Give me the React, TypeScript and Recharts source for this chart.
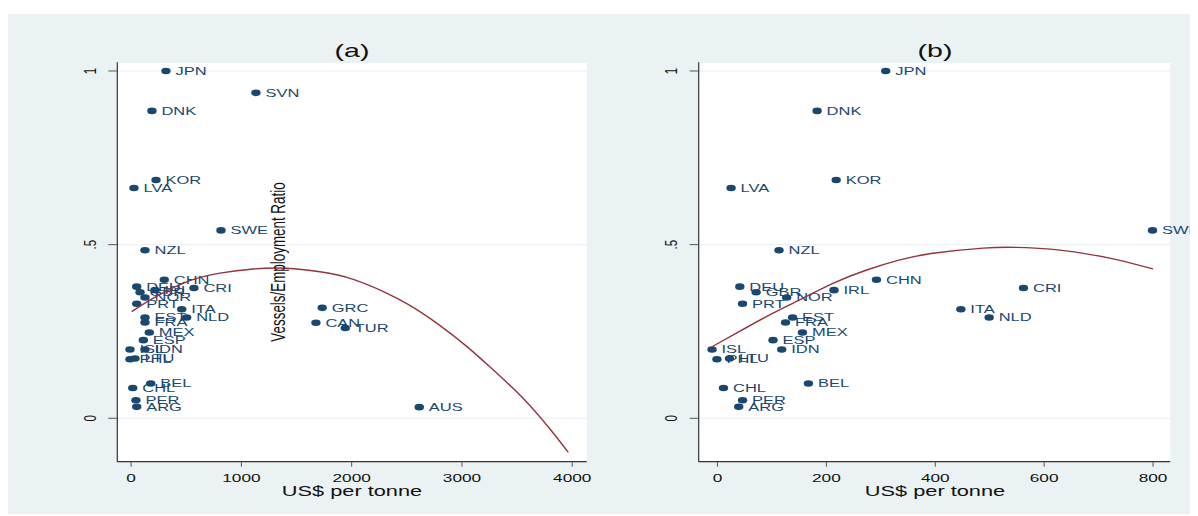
import React from 'react';
import { ScatterChart, Scatter, XAxis, YAxis, CartesianGrid } from 'recharts';

// country codes, vessels/employment ratio, price in panel (a) and (b)
const countries = ['JPN', 'SVN', 'DNK', 'KOR', 'LVA', 'SWE', 'NZL', 'CHN', 'DEU', 'GBR', 'IRL', 'CRI', 'NOR', 'PRT', 'ITA', 'EST', 'NLD', 'FRA', 'MEX', 'ESP', 'ISL', 'IDN', 'PHL', 'LTU', 'BEL', 'CHL', 'PER', 'ARG', 'GRC', 'CAN', 'TUR', 'AUS'];
const ratio = [1.0, 0.937, 0.885, 0.686, 0.663, 0.541, 0.484, 0.399, 0.379, 0.363, 0.369, 0.375, 0.348, 0.33, 0.314, 0.29, 0.29, 0.276, 0.247, 0.225, 0.198, 0.198, 0.17, 0.172, 0.1, 0.087, 0.052, 0.033, 0.318, 0.275, 0.26, 0.032];
const priceA = [316, 1132, 189, 226, 26, 815, 126, 301, 51, 81, 217, 570, 126, 51, 459, 126, 504, 126, 165, 111, -10, 126, -10, 35, 178, 15, 44, 51, 1733, 1676, 1942, 2613];
const priceB = [309, null, 183, 218, 25, 799, 113, 292, 41, 71, 214, 562, 127, 46, 447, 138, 499, 125, 156, 102, -10, 118, -1, 22, 167, 11, 46, 39, null, null, null, null];

// quadratic fit lines
const fitAx = [5, 201, 504, 806, 1108, 1411, 1713, 2015, 2438, 2771, 3043, 3284, 3556, 3798, 3964];
const fitAy = [0.307, 0.346, 0.393, 0.418, 0.43, 0.432, 0.422, 0.4, 0.341, 0.274, 0.207, 0.139, 0.057, -0.031, -0.098];
const fitBx = [-10, 29, 90, 151, 213, 274, 335, 396, 488, 550, 611, 672, 733, 800];
const fitBy = [0.206, 0.24, 0.293, 0.341, 0.389, 0.427, 0.456, 0.475, 0.49, 0.492, 0.487, 0.475, 0.457, 0.43];

const ticksA = [0, 1000, 2000, 3000, 4000];
const ticksB = [0, 200, 400, 600, 800];
const yTicks = [0, 0.5, 1];

const FONT = '"Liberation Sans", Arial, Helvetica, sans-serif';
const NAVY = '#1a476f';
const MAROON = '#90353b';
const BG = '#eaf2f3';
const SX = 1.5;

const pointsA = countries.map((name, i) => ({ name, x: priceA[i], y: ratio[i] }));
const pointsB = countries
  .map((name, i) => ({ name, x: priceB[i], y: ratio[i] }))
  .filter((p) => p.x !== null);
const fitA = fitAx.map((x, i) => ({ x, y: fitAy[i] }));
const fitB = fitBx.map((x, i) => ({ x, y: fitBy[i] }));

function Marker(props: any) {
  const { cx, cy, payload } = props;
  return (
    <g>
      <ellipse cx={cx} cy={cy} rx={4.7} ry={3.3} fill={NAVY} />
      <text
        transform={`translate(${cx + 9.5},${cy}) scale(${SX},1)`}
        fontSize={11}
        fontFamily={FONT}
        fill={NAVY}
        dominantBaseline="central"
      >
        {payload.name}
      </text>
    </g>
  );
}

function XTick(props: any) {
  const { x, y, payload } = props;
  return (
    <text
      transform={`translate(${x},${y + 9.5}) scale(${SX},1)`}
      textAnchor="middle"
      dominantBaseline="central"
      fontSize={11.5}
      fontFamily={FONT}
      fill="#111"
    >
      {payload.value}
    </text>
  );
}

function YTick(props: any) {
  const { x, y, payload } = props;
  const lab = payload.value === 0.5 ? '.5' : String(payload.value);
  return (
    <text
      transform={`translate(${x - 16.5},${y}) scale(${SX},1) rotate(-90)`}
      textAnchor="middle"
      dominantBaseline="central"
      fontSize={11.5}
      fontFamily={FONT}
      fill="#111"
    >
      {lab}
    </text>
  );
}

function Panel({ points, fit, domain, ticks, width, left, yWidth, right }: any) {
  return (
    <div style={{ position: 'absolute', left, top: 0 }}>
      <ScatterChart width={width} height={500} margin={{ top: 48.3, right, bottom: 0, left: 0 }}>
        <CartesianGrid horizontal vertical={false} fill="#fff" stroke="#e8eff1" strokeWidth={1} />
        <XAxis
          type="number"
          dataKey="x"
          domain={domain}
          ticks={ticks}
          interval={0}
          height={52.3}
          tickSize={5}
          tickMargin={2}
          axisLine={{ stroke: '#333', strokeWidth: 1.2 }}
          tickLine={{ stroke: '#555' }}
          tick={(p: any) => <XTick {...p} />}
        />
        <YAxis
          type="number"
          dataKey="y"
          domain={[-0.125, 1.025]}
          ticks={yTicks}
          interval={0}
          width={yWidth}
          tickSize={9}
          tickMargin={2}
          axisLine={{ stroke: '#333', strokeWidth: 1.2 }}
          tickLine={{ stroke: '#555' }}
          tick={(p: any) => <YTick {...p} />}
        />
        <Scatter data={points} shape={(p: any) => <Marker {...p} />} isAnimationActive={false} />
        <Scatter
          data={fit}
          line={{ stroke: MAROON, strokeWidth: 1.4 }}
          lineJointType="natural"
          shape={() => <g />}
          isAnimationActive={false}
        />
      </ScatterChart>
    </div>
  );
}

const centered = (x: number, y: number, size: number, extra = ''): React.CSSProperties => ({
  position: 'absolute',
  left: x,
  top: y,
  transform: `translate(-50%, -50%) scaleX(${SX}) ${extra}`,
  fontFamily: FONT,
  fontSize: size,
  lineHeight: 1,
  whiteSpace: 'nowrap',
  color: '#111',
});

export default function App() {
  return (
    <div style={{ position: 'relative', width: 1190, height: 500, marginTop: 6, background: BG, overflow: 'hidden' }}>
      <Panel points={pointsA} fit={fitA} domain={[-125, 4131]} ticks={ticksA} width={600} left={0} yWidth={109.3} right={21.3} />
      <Panel points={pointsB} fit={fitB} domain={[-34.5, 831.5]} ticks={ticksB} width={608} left={582} yWidth={108.7} right={27.8} />
      <div style={centered(344, 36, 19)}>(a)</div>
      <div style={centered(926.5, 36, 19)}>(b)</div>
      <div style={centered(344, 477, 14.5)}>US$ per tonne</div>
      <div style={centered(926.5, 477, 14.5)}>US$ per tonne</div>
      <div style={centered(271, 248, 13.4, 'rotate(-90deg)')}>Vessels/Employment Ratio</div>
    </div>
  );
}
